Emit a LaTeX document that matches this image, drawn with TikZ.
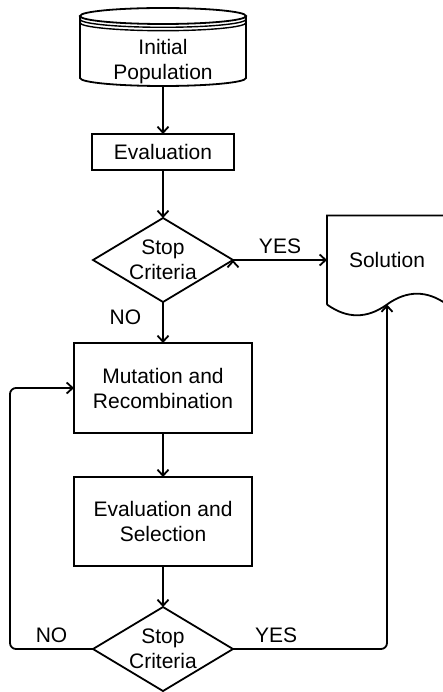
\documentclass[tikz,border=0pt]{standalone}
\usepackage{fontspec}
\setmainfont{Liberation Sans}
\usetikzlibrary{arrows.meta, calc, positioning, shapes.geometric}

\tikzset{
  lbl/.style={font=\fontsize{21pt}{25pt}\selectfont, align=center, inner sep=2pt},
  edgeline/.style={draw, line width=1.8pt},
  hidden/.style={lbl, rectangle, inner sep=0pt, outer sep=0pt},
  box/.style={hidden, edgeline},
  decision/.style={edgeline, diamond, minimum width=140pt, minimum height=84pt, inner sep=0pt, outer sep=0pt},
  arrow/.style={line width=1.8pt, -{Straight Barb[length=6pt,width=11pt]}},
}

\begin{document}
\begin{tikzpicture}[x=1pt, y=-1pt]
        \useasboundingbox (0,0) rectangle (443,692);

        \node[hidden, minimum width=166pt, minimum height=78pt] (init) at (163,47) {};
        \node[box, minimum width=142pt, minimum height=36pt, below=48pt of init] (eval) {Evaluation};
        \node[decision, below=48pt of eval, label={[lbl]center:Stop\\Criteria}] (stop1) {};
        \node[box, minimum width=178pt, minimum height=90pt, below=41pt of stop1] (mut) {Mutation and\\Recombination};
        \node[box, minimum width=178pt, minimum height=89pt, below=44pt of mut] (evsel) {Evaluation and\\Selection};
        \node[decision, below=41pt of evsel, label={[lbl]center:Stop\\Criteria}] (stop2) {};
        \node[hidden, minimum width=120pt, minimum height=89pt, right=94pt of stop1] (sol) {Solution};
        \node[lbl] (initlbl) at ([yshift=-14.5pt]init.center) {Initial\\Population};

        \draw[edgeline] ([yshift=-8pt]init.north west) -- ([yshift=8pt]init.south west)
            arc[start angle=180, end angle=360, x radius=83pt, y radius=8pt]
            -- ([yshift=-8pt]init.north east);
        \draw[edgeline] ([yshift=-8pt]init.north) ellipse[x radius=83pt, y radius=8pt];
        \foreach \d in {11.3pt, 14.7pt}
            \draw[edgeline, line width=1.4pt] ([yshift=-\d]init.north west) arc[start angle=180, end angle=360, x radius=83pt, y radius=8pt];

        \draw[edgeline] (sol.south west) -- (sol.north west) -- (sol.north east) -- (sol.south east)
            .. controls ($(sol.south east)+(-20,-14.4)$) and ($(sol.south)+(20,-14.4)$) .. (sol.south)
            .. controls ($(sol.south)+(-20,14.4)$) and ($(sol.south west)+(20,14.4)$) .. (sol.south west);

        \draw[arrow]
            (init) edge (eval)
            (eval) edge (stop1)
            (stop1) edge node[lbl, pos=0.37, left=19pt] {NO} (mut)
            (mut) edge (evsel)
            (evsel) edge (stop2)
            (stop1.east) edge node[lbl, above=3pt] {YES} (stop1.east -| sol.west)
            ;
        \draw[arrow, rounded corners=6pt] (stop2.east) -| node[lbl, pos=0.14, above=3pt] {YES} (sol.south);
        \draw[arrow, rounded corners=6pt] (stop2.west) -| node[lbl, pos=0.25, above=3pt] {NO} ([xshift=-64pt]mut.west) -- (mut.west);
\end{tikzpicture}
\end{document}
